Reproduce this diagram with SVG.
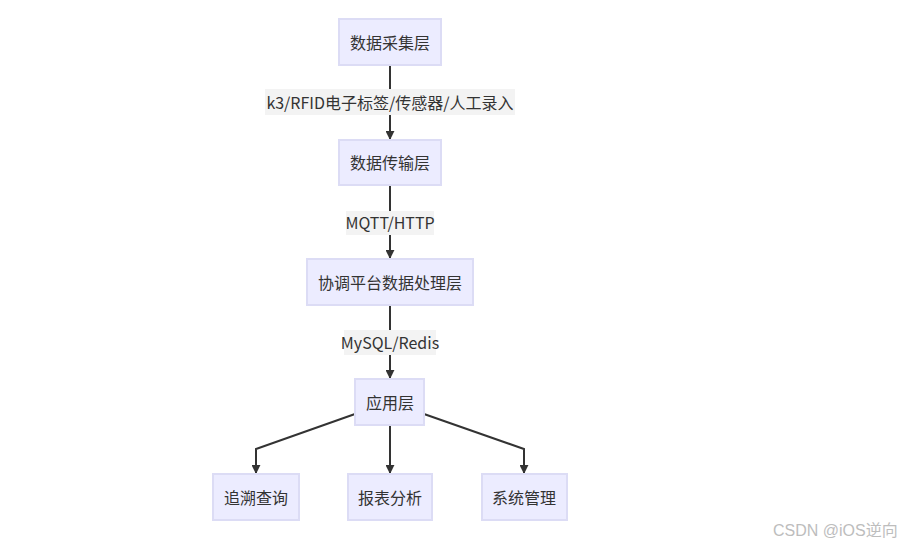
<svg xmlns="http://www.w3.org/2000/svg" width="899" height="547" viewBox="0 0 899 547">
  <style>
    .node rect { fill: #ececff; stroke: #dcdcf5; stroke-width: 2; }
    .node text, .lbl text { font-family: "Noto Sans CJK SC", "Noto Sans", sans-serif; font-size: 16px; fill: #333; text-anchor: middle; dominant-baseline: central; }
    .lbl rect { fill: #f3f3f3; stroke: none; }
    .edge { fill: none; stroke: #333; stroke-width: 2; }
    .wm { font-family: "Liberation Sans", "Noto Sans CJK SC", sans-serif; font-size: 16px; fill: #bdbdbd; }
  </style>
  <defs>
    <marker id="arrow" viewBox="0 0 10 10" refX="9" refY="5" markerWidth="9" markerHeight="9" markerUnits="userSpaceOnUse" orient="auto">
      <path d="M0,0 L10,5 L0,10 Z" fill="#333"/>
    </marker>
  </defs>
  <rect width="899" height="547" fill="#ffffff"/>

  <g id="connectors">
    <path class="edge" d="M390,65 V139" marker-end="url(#arrow)"/>
    <path class="edge" d="M390,185 V258" marker-end="url(#arrow)"/>
    <path class="edge" d="M390,305 V378" marker-end="url(#arrow)"/>
    <path class="edge" d="M355,414 L256,449 V473" marker-end="url(#arrow)"/>
    <path class="edge" d="M390,425 V473" marker-end="url(#arrow)"/>
    <path class="edge" d="M424,414 L524,449 V473" marker-end="url(#arrow)"/>
    <g class="lbl">
      <rect x="265" y="89" width="250" height="26"/>
      <text x="390" y="102">k3/RFID电子标签/传感器/人工录入</text>
    </g>
    <g class="lbl">
      <rect x="346" y="211" width="88" height="24"/>
      <text x="390" y="222">MQTT/HTTP</text>
    </g>
    <g class="lbl">
      <rect x="344" y="330" width="92" height="25"/>
      <text x="390" y="342">MySQL/Redis</text>
    </g>
  </g>

  <g id="collect" class="node">
    <rect x="339" y="19" width="102" height="46"/>
    <text x="390" y="42">数据采集层</text>
  </g>
  <g id="transfer" class="node">
    <rect x="339" y="140" width="102" height="45"/>
    <text x="390" y="162">数据传输层</text>
  </g>
  <g id="platform" class="node">
    <rect x="307" y="259" width="166" height="46"/>
    <text x="390" y="282">协调平台数据处理层</text>
  </g>
  <g id="app" class="node">
    <rect x="355" y="379" width="69" height="46"/>
    <text x="390" y="402">应用层</text>
  </g>
  <g id="trace" class="node">
    <rect x="213" y="474" width="86" height="46"/>
    <text x="256" y="497">追溯查询</text>
  </g>
  <g id="report" class="node">
    <rect x="348" y="474" width="84" height="46"/>
    <text x="390" y="497">报表分析</text>
  </g>
  <g id="admin" class="node">
    <rect x="482" y="474" width="85" height="46"/>
    <text x="524" y="497">系统管理</text>
  </g>

  <text class="wm" x="773" y="536">CSDN @iOS逆向</text>
</svg>
